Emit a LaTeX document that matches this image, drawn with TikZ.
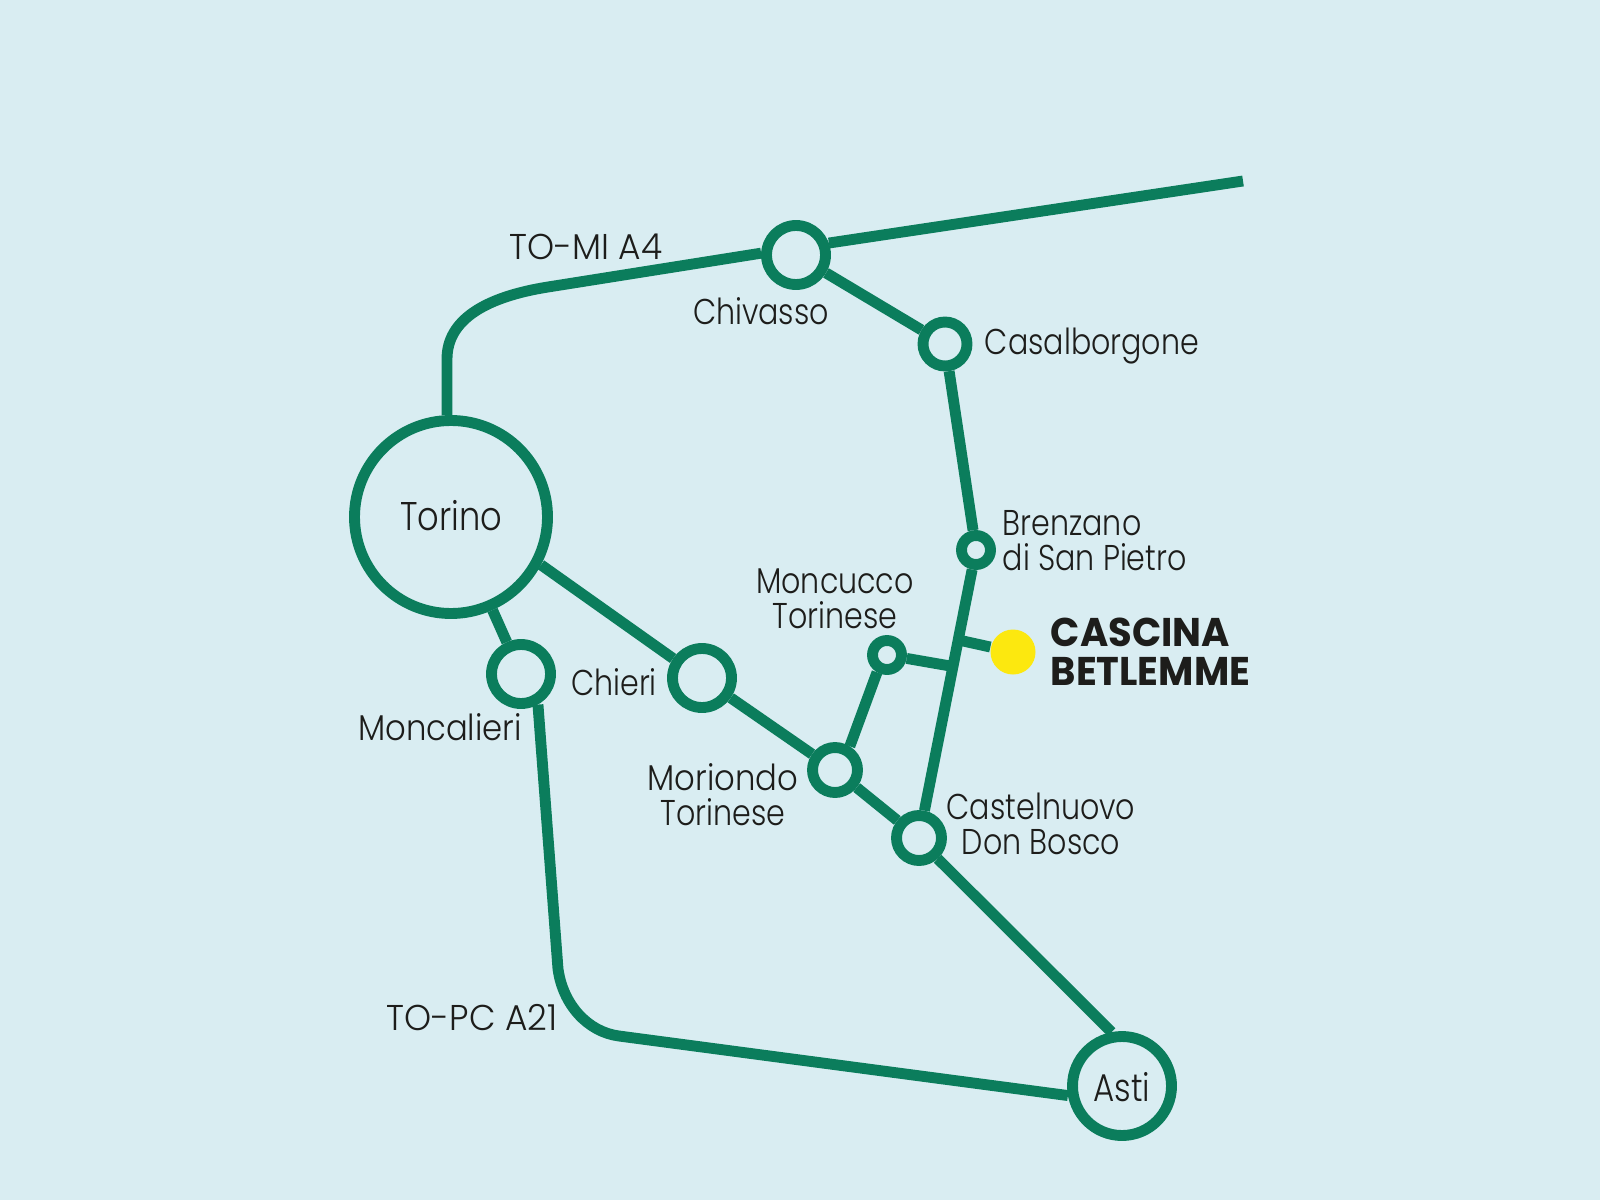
\documentclass[tikz,border=0pt]{standalone}
\usepackage{fontspec}
\setmainfont{Poppins}[UprightFont=* Light, FakeStretch=0.84]
\newfontfamily\midfont{Poppins}[UprightFont=* Light, FakeStretch=0.90]
\newfontfamily\widerfont{Poppins}[UprightFont=* Light, FakeStretch=0.96]
\newfontfamily\pinfont{Poppins}[UprightFont=* Bold, FakeStretch=0.96]
\usepackage{tikz}
\usetikzlibrary{positioning}

\definecolor{roadgreen}{HTML}{0B7D5C}
\definecolor{skyblue}{HTML}{D9EDF2}
\definecolor{pinyellow}{HTML}{FCE80F}
\definecolor{labelblack}{HTML}{1D1D1B}

\begin{document}
\begin{tikzpicture}[
    road/.style={line width=3.1pt, color=roadgreen},
    station/.style={circle, draw=roadgreen, line width=3.1pt, fill=skyblue, inner sep=0pt, minimum size=#1},
    lbl/.style={color=labelblack, font=\fontsize{10.2}{10}\selectfont, align=center, inner sep=0pt},
    lblleft/.style={lbl, align=left, anchor=west}
]
    \fill[skyblue] (0, 0) rectangle (16, 12);
    \useasboundingbox (0, 0) rectangle (16, 12);

    % Stations
    \node[station=1.93cm] (torino) at (4.51, 6.83) {};
    \node[station=0.99cm] (asti) at (11.22, 1.14) {};
    \node[station=0.59cm] (chivasso) at (7.96, 9.45) {};
    \node[station=0.44cm] (casalborgone) at (9.45, 8.56) {};
    \node[station=0.29cm] (brenzano) at (9.76, 6.50) {};
    \node[station=0.29cm] (moncucco) at (8.87, 5.45) {};
    \node[station=0.45cm] (moriondo) at (8.35, 4.30) {};
    \node[station=0.45cm] (castelnuovo) at (9.19, 3.62) {};
    \node[station=0.59cm] (chieri) at (7.02, 5.22) {};
    \node[station=0.59cm] (moncalieri) at (5.21, 5.26) {};
    \node[circle, fill=pinyellow, inner sep=0pt, minimum size=0.45cm] (betlemme) at (10.13, 5.48) {};

    % Free ends and bends of the roads
    \coordinate (east) at (12.43, 10.19);
    \coordinate (northbend) at (5.48, 9.13);
    \coordinate (northup) at (4.47, 8.41);
    \coordinate (southbend) at (6.19, 1.64);
    \coordinate (southdown) at (5.58, 2.31);
    \coordinate (joinw) at (9.56, 5.33);
    \coordinate (joine) at (9.63, 5.59);

    \draw[road] (chivasso.20) -- (east);
    \draw[road] (northup |- torino.92) -- (northup) .. controls (4.47, 8.80) and (4.85, 9.03) .. (northbend) -- (chivasso.177);
    \draw[road] (moncalieri.299) -- (southdown) .. controls (5.63, 1.95) and (5.88, 1.68) .. (southbend) -- (asti.190);
    \draw[road] (chivasso) -- (casalborgone);
    \draw[road] (casalborgone) -- (brenzano);
    \draw[road] (brenzano) -- (castelnuovo);
    \draw[road] (castelnuovo.312) -- (asti.101);
    \draw[road] (moriondo) -- (castelnuovo);
    \draw[road] (chieri) -- (moriondo);
    \draw[road] (torino.332) -- (chieri.146);
    \draw[road] (torino) -- (moncalieri);
    \draw[road] (moriondo.58) -- (moncucco.240);
    \draw[road] (moncucco) -- (joinw);
    \draw[road] (joine) -- (betlemme);

    % Labels
    \node[lbl, font=\fontsize{11.4}{12}\selectfont] (torinolbl) at (4.51, 6.84) {Torino};
    \node[lbl, font=\fontsize{11}{12}\selectfont] (astilbl) at (11.22, 1.13) {Asti};
    \node[lbl, font=\fontsize{10.2}{10}\widerfont] (tomi) at (5.86, 9.53) {TO-MI A4};
    \node[lbl, font=\fontsize{10.2}{10}\widerfont] (topc) at (4.72, 1.82) {TO-PC A21};
    \node[lbl] (chivassolbl) at (7.61, 8.89) {Chivasso};
    \node[lbl] (casalborgonelbl) at (10.92, 8.54) {Casalborgone};
    \node[lblleft] (brenzanolbl) at (10.02, 6.59) {Brenzano\\di San Pietro};
    \node[lbl] (moncuccolbl) at (8.35, 6.01) {Moncucco\\Torinese};
    \node[lbl] (chierilbl) at (6.14, 5.18) {Chieri};
    \node[lbl, font=\fontsize{10.2}{10}\midfont] (moncalierilbl) at (4.40, 4.725) {Moncalieri};
    \node[lbl] (moriondolbl) at (7.23, 4.05) {{\midfont Moriondo}\\Torinese};
    \node[lbl] (castelnuovolbl) at (10.41, 3.76) {Castelnuovo\\Don Bosco};
    \node[lblleft, font=\fontsize{11.4}{11}\pinfont] (betlemmelbl) at (10.50, 5.48) {CASCINA\\BETLEMME};
\end{tikzpicture}
\end{document}
